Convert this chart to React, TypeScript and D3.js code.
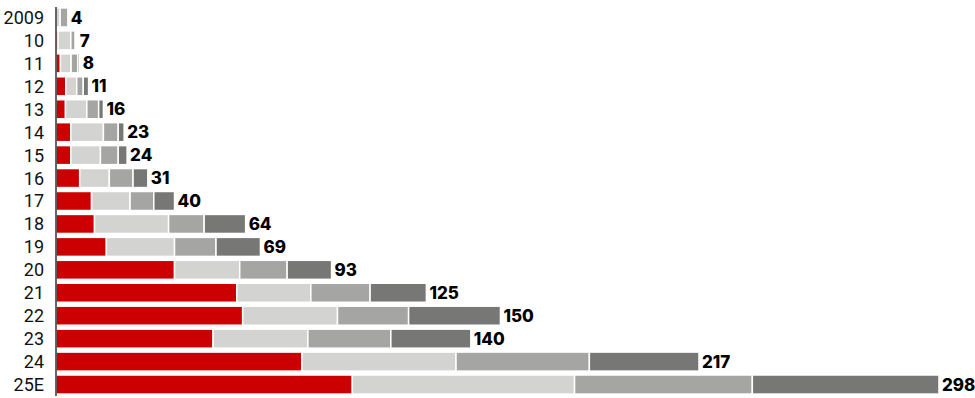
import React from "react";
import * as d3 from "d3";

const years = ["2009", "10", "11", "12", "13", "14", "15", "16", "17", "18", "19", "20", "21", "22", "23", "24", "25E"];
const red = [0, 0.7, 1.5, 3.3, 3.2, 5, 5, 8, 12, 13, 17, 40, 61, 63, 53, 83, 100];
const light = [1.4, 4.3, 3.6, 3.7, 7.2, 11, 10, 10, 13, 25, 23, 22, 25, 32, 32, 52, 75];
const mid = [2.6, 1.5, 2.3, 2.2, 4.0, 5, 6, 8, 8, 12, 14, 16, 20, 24, 28, 45, 60];
const dark = [0, 0.5, 0.6, 1.8, 1.6, 2, 3, 5, 7, 14, 15, 15, 19, 31, 27, 37, 63];
const totals = [4, 7, 8, 11, 16, 23, 24, 31, 40, 64, 69, 93, 125, 150, 140, 217, 298];

const seriesKeys = ["red", "light", "mid", "dark"];
const colors = ["#cc0000", "#d3d3d1", "#a5a5a3", "#777775"];

export default function App() {
  const W = 975;
  const H = 398;
  const x0 = 56;
  const x = d3.scaleLinear().domain([0, 298]).range([x0, 939]);
  const y = d3.scaleBand<string>().domain(years).range([6, 396]).paddingInner(0.17).paddingOuter(0.085);

  const table = years.map((yr, i) => ({ year: yr, red: red[i], light: light[i], mid: mid[i], dark: dark[i] }));
  const stack = d3.stack<any>().keys(seriesKeys)(table);

  return (
    <svg width={W} height={H} style={{ position: "absolute", left: 0, top: 0 }}>
      <rect width={W} height={H} fill="#fff" />
      {stack.map((layer, si) =>
        layer.map((d, i) => {
          const w = x(d[1]) - x(d[0]);
          if (w <= 0) return null;
          return (
            <rect
              key={`${si}-${i}`}
              x={x(d[0])}
              y={y(years[i])}
              width={w}
              height={y.bandwidth()}
              fill={colors[si]}
              stroke="#fff"
              strokeWidth={1.5}
            />
          );
        })
      )}
      <line x1={x0} x2={x0} y1={7} y2={396} stroke="#333" strokeWidth={1.5} />
      {years.map((yr, i) => (
        <text
          key={yr}
          x={44}
          y={(y(yr) as number) + y.bandwidth() / 2}
          dy="0.36em"
          textAnchor="end"
          fontFamily="Roboto, sans-serif"
          fontWeight={400}
          fontSize={18}
          fill="#111"
        >
          {yr}
        </text>
      ))}
      {years.map((yr, i) => (
        <text
          key={"t" + yr}
          x={x(totals[i]) + 3}
          y={(y(yr) as number) + y.bandwidth() / 2}
          dy="0.36em"
          fontFamily="Inter, sans-serif"
          fontWeight={800}
          fontSize={17}
          fill="#000"
        >
          {totals[i]}
        </text>
      ))}
    </svg>
  );
}
